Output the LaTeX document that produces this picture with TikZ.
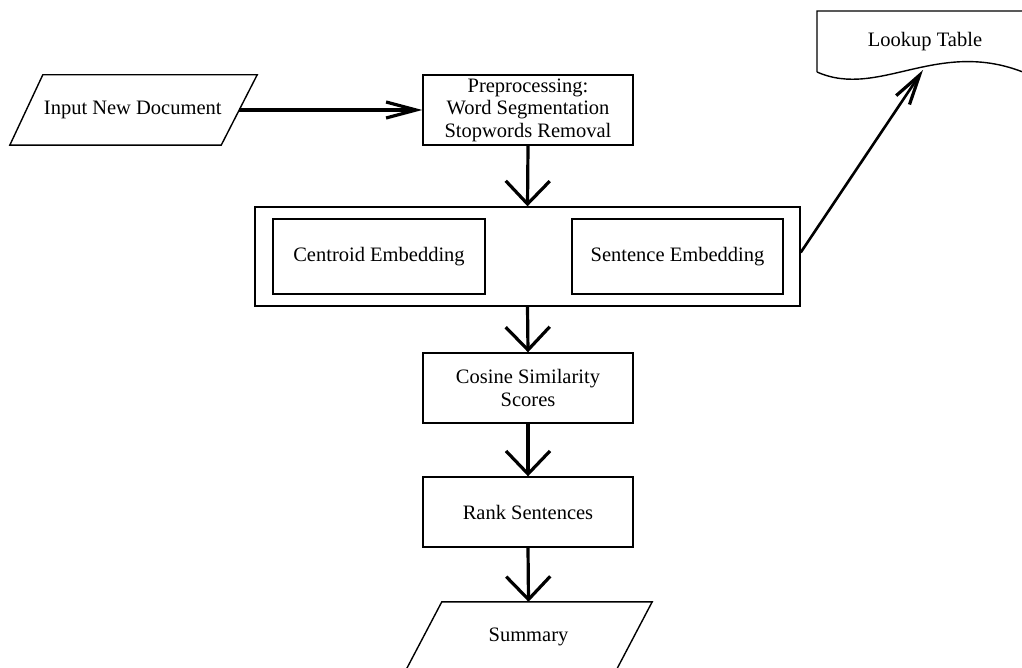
\documentclass[tikz,border=0pt]{standalone}
\usepackage{fontspec}
\setmainfont{Liberation Serif}
\usetikzlibrary{arrows.meta,calc}
\begin{document}
\begin{tikzpicture}[x=1pt,y=-1pt,
  every node/.style={font=\fontsize{20.5}{22.5}\selectfont, align=center, inner sep=0pt},
  box/.style={draw, line width=1.4pt, minimum width=210pt, minimum height=70pt},
  shapeline/.style={draw, line width=1.4pt, line join=miter},
  wideflow/.style={line width=3.2pt, -{Straight Barb[length=23pt,width=44pt,line width=3.2pt]}},
  narrowflow/.style={line width=3.2pt, -{Straight Barb[length=30pt,width=16pt,line width=3.2pt]}}]
\useasboundingbox (0,0) rectangle (1022,668);

% input parallelogram
\node[minimum width=212.5pt, minimum height=70pt] (in) at (132.75,110) {Input New Document};
\draw[shapeline] ($(in.north west)+(16.5,0)$) -- ($(in.north east)+(18,0)$)
  -- ($(in.south east)+(-18,0)$) -- ($(in.south west)+(-16.5,0)$) -- cycle;

% preprocessing
\node[box] (pre) at (528,110) {Preprocessing:\\Word Segmentation\\Stopwords Removal};

% embedding group
\node[draw, line width=1.4pt, minimum width=545pt, minimum height=99pt] (outer) at (527.5,256.5) {};
\node[box, minimum width=212pt, minimum height=75pt] (cen) at (379,256.5) {Centroid Embedding};
\node[box, minimum width=211pt, minimum height=75pt] (sen) at (677.5,256.5) {Sentence Embedding};

% cosine and rank
\node[box] (cos) at (528,388) {Cosine Similarity\\Scores};
\node[box] (rank) at (528,512) {Rank Sentences};

% summary parallelogram
\node[minimum width=210pt, minimum height=70pt] (sum) at (528.5,637) {Summary};
\draw[shapeline] ($(sum.north west)+(18.5,0)$) -- ($(sum.north east)+(18.5,0)$)
  -- ($(sum.south east)+(-18.5,0)$) -- ($(sum.south west)+(-18.5,0)$) -- cycle;

% lookup table (document shape)
\node (look) at (925,42) {Lookup Table};
\draw[shapeline] (817,72) -- (817,11) -- (1040,11) -- (1040,75) -- (1030,75)
  .. controls (940,35) and (880,100) .. (817,72);
\coordinate (lt) at (923,70);

% connectors
\draw[narrowflow] (in.east) -- (pre.west);
\draw[wideflow] (pre.south) -- (outer.north);
\draw[wideflow] (outer.south) -- (cos.north);
\draw[wideflow] (cos.south) -- (rank.north);
\draw[wideflow] (rank.south) -- (sum.north);
\draw[narrowflow, line width=2.6pt] ($(outer.east)+(0,-4)$) -- (lt);
\end{tikzpicture}
\end{document}
